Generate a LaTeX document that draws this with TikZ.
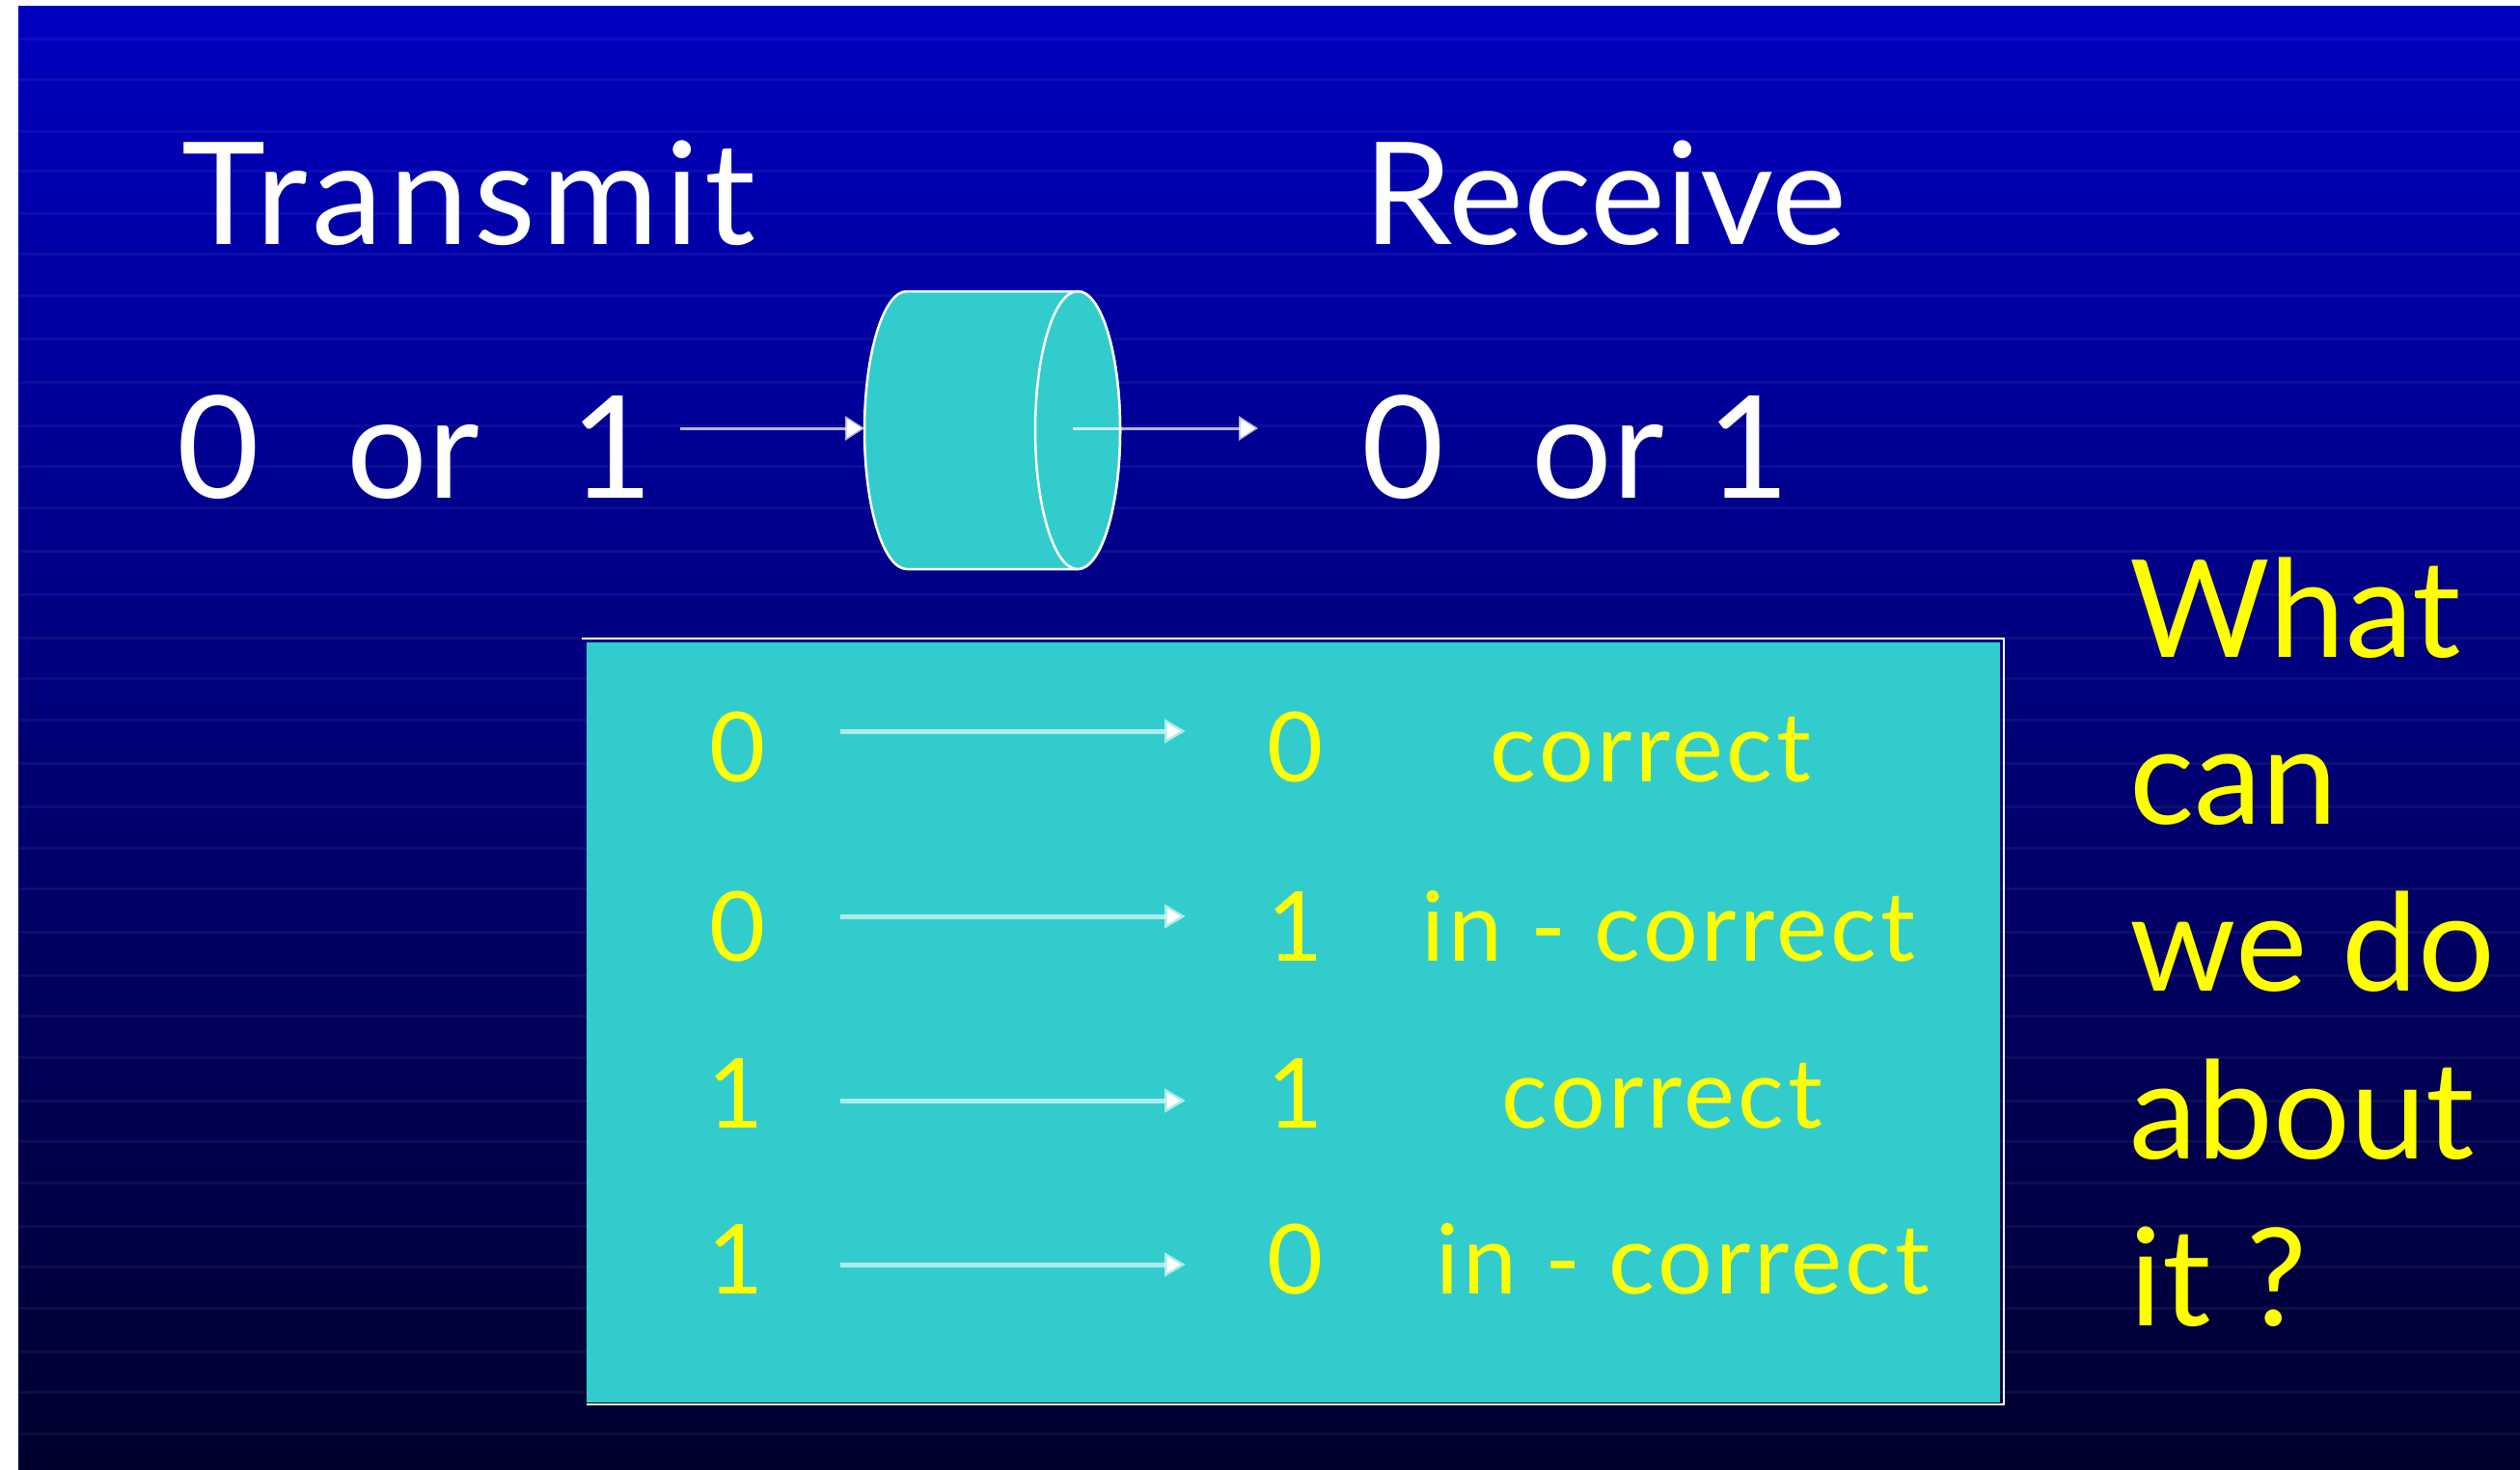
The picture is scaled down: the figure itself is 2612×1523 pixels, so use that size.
\documentclass[tikz,border=0pt]{standalone}
\usepackage{fontspec}
\setmainfont{Lato}
\usetikzlibrary{arrows.meta}
\definecolor{slidecyan}{HTML}{33CCCC}
\definecolor{bgtop}{RGB}{0,0,192}
\definecolor{bgmid}{RGB}{0,0,150}
\definecolor{bgbot}{RGB}{0,0,46}
\definecolor{hiyellow}{RGB}{255,255,0}
\tikzset{
  bigtext/.style={text=white, font=\fontsize{42}{50}\selectfont, inner sep=0pt, anchor=base west},
  cell/.style={text=hiyellow, font=\fontsize{28.5}{34}\selectfont, inner sep=0pt, anchor=base west},
  verdict/.style={cell, font=\fontsize{28.5}{34}\selectfont\addfontfeatures{LetterSpace=3.5}},
  question/.style={text=hiyellow, font=\fontsize{40}{49.2}\selectfont, inner sep=0pt, anchor=base west, align=left},
  wire/.style={draw=white, draw opacity=0.7, line width=0.3mm, -{Triangle[length=2mm, width=2.5mm, color=white]}},
  tablewire/.style={draw=white, draw opacity=0.6, line width=0.5mm, -{Triangle[length=2.2mm, width=2.4mm, color=white]}},
  drum/.style={fill=slidecyan, draw=white, line width=0.25mm},
}
\begin{document}
\begin{tikzpicture}[x=0.01cm, y=-0.01cm]
\useasboundingbox (0,0) rectangle (2612,1523);
% page and slide background
\fill[white] (0,0) rectangle (2612,1523);
\shade[top color=bgtop, middle color=bgmid, bottom color=bgbot] (19,6) rectangle (2612,1523);
\foreach \yy in {39,81,135,176,220,262,305,350,395,440,482,525,570,615,660,702,745,790,835,878,920,965,1010,1052,1095,1140,1182,1225,1270,1312,1355,1400,1442,1485}
  \fill[white, opacity=0.05] (19,\yy) rectangle (2612,\yy+3);

% headings
\node[bigtext, font=\fontsize{42}{50}\selectfont\addfontfeatures{LetterSpace=4}] (transmit) at (188,253) {Transmit};
\node[bigtext] (receive) at (1413,253) {Receive};
\node[bigtext] (txbits) at (183,516) {0\hspace{9mm}or\hspace{9.5mm}1};
\node[bigtext] (rxbits) at (1411,516) {0\hspace{9mm}or\hspace{4.5mm}1};

% channel drum
\draw[drum] (940,302) arc[start angle=270, end angle=90, x radius=44, y radius=144]
  -- (1117,590) arc[start angle=90, end angle=-90, x radius=44, y radius=144] -- cycle;
\draw[drum] (1117,446) ellipse[x radius=44, y radius=144];
\coordinate (txout) at (705,444);
\coordinate (chanin) at (896,444);
\coordinate (chanout) at (1112,444);
\coordinate (rxin) at (1304,444);
\draw[wire] (txout) -- (chanin);
\draw[wire] (chanout) -- (rxin);

% outcome table
\fill[slidecyan] (608,666) rectangle (2073,1454);
\draw[white, line width=0.25mm] (603,662) -- (2077,662) -- (2077,1456) -- (608,1456);

\node[cell] (s1) at (735,810) {0};
\node[cell] (s2) at (735,996) {0};
\node[cell] (s3) at (733,1169) {1};
\node[cell] (s4) at (733,1341) {1};
\node[cell] (r1) at (1313,810) {0};
\node[cell] (r2) at (1313,996) {1};
\node[cell] (r3) at (1313,1169) {1};
\node[cell] (r4) at (1313,1341) {0};
\node[verdict] (l1) at (1544,810) {correct};
\node[verdict] (l2) at (1473,996) {in - correct};
\node[verdict] (l3) at (1556,1169) {correct};
\node[verdict] (l4) at (1488,1341) {in - correct};

\foreach \i/\yy in {1/758,2/950,3/1141,4/1311}{
  \coordinate (a\i) at (871,\yy);
  \coordinate (b\i) at (1229,\yy);
  \draw[tablewire] (a\i) -- (b\i);
}

% question, anchored on the baseline of its last line
\node[question] (ask) at (2207,1374) {What\\can\\we do\\about\\it ?};
\end{tikzpicture}
\end{document}
